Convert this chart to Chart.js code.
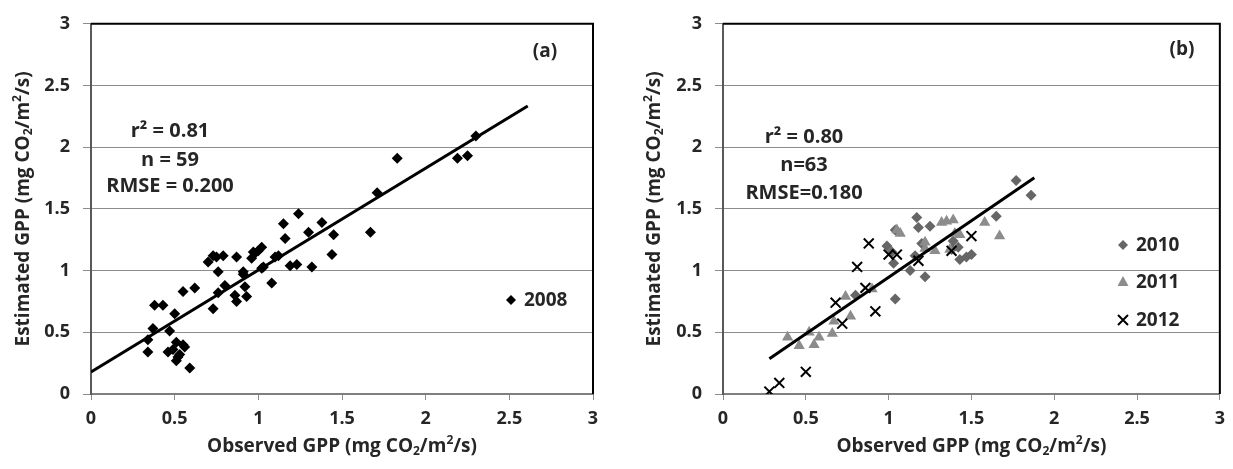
<!DOCTYPE html>
<html>
<head>
<meta charset="utf-8">
<script src="https://cdn.jsdelivr.net/npm/chart.js@4.4.0/dist/chart.umd.min.js"></script>
<style>
  html, body { margin: 0; padding: 0; background: #fff; }
  #wrap { position: relative; width: 1233px; height: 469px; overflow: hidden; background: #fff; }
  canvas { position: absolute; top: 0; }
  #chartA { left: 0; }
  #chartB { left: 616px; }
</style>
</head>
<body>
<div id="wrap">
  <canvas id="chartA" width="616" height="469"></canvas>
  <canvas id="chartB" width="617" height="469"></canvas>
</div>
<script>
// ticks, same on both axes of both panels
const tickValues = [0, 0.5, 1, 1.5, 2, 2.5, 3];
const tickLabels = ['0', '0.5', '1', '1.5', '2', '2.5', '3'];

// panel (a) : 2008
const obs2008 = [0.34, 0.34, 0.37, 0.38, 0.43, 0.47, 0.50, 0.46, 0.51, 0.56, 0.49, 0.53, 0.51, 0.52, 0.55, 0.59, 0.55, 0.62,
  0.70, 0.73, 0.73, 0.75, 0.76, 0.76, 0.79, 0.80, 0.86, 0.87, 0.87, 0.91, 0.91, 0.92, 0.93, 0.96, 0.97, 0.98, 1.00, 1.02,
  1.02, 1.03, 1.08, 1.10, 1.12, 1.15, 1.16, 1.19, 1.23, 1.24, 1.30, 1.32, 1.38, 1.44, 1.45, 1.67, 1.71, 1.83, 2.19, 2.25, 2.30];
const est2008 = [0.34, 0.44, 0.53, 0.72, 0.72, 0.51, 0.65, 0.34, 0.42, 0.38, 0.36, 0.32, 0.27, 0.30, 0.40, 0.21, 0.83, 0.86,
  1.07, 0.69, 1.12, 1.11, 0.99, 0.82, 1.12, 0.88, 0.80, 0.75, 1.11, 0.99, 0.97, 0.87, 0.79, 1.10, 1.15, 1.14, 1.16, 1.19,
  1.02, 1.03, 0.90, 1.11, 1.12, 1.38, 1.26, 1.04, 1.05, 1.46, 1.31, 1.03, 1.39, 1.13, 1.29, 1.31, 1.63, 1.91, 1.91, 1.93, 2.09];

// panel (b) : 2010, 2011, 2012
const obs2010 = [1.77, 1.86, 1.17, 1.65, 1.18, 1.25, 1.04, 0.99, 1.03, 1.13, 1.22, 1.04, 1.16, 1.39, 1.42, 1.43, 1.47, 1.50, 1.20, 0.80, 1.02, 1.38];
const est2010 = [1.73, 1.61, 1.43, 1.44, 1.35, 1.36, 1.33, 1.20, 1.06, 1.00, 0.95, 0.77, 1.12, 1.24, 1.19, 1.09, 1.11, 1.13, 1.22, 0.80, 1.15, 1.17];
const obs2011 = [0.39, 0.46, 0.52, 0.55, 0.58, 0.66, 0.67, 0.74, 0.77, 0.90, 1.05, 1.07, 1.32, 1.35, 1.39, 1.40, 1.43, 1.58, 1.67, 1.22, 1.22, 1.28, 1.37];
const est2011 = [0.46, 0.39, 0.50, 0.40, 0.46, 0.49, 0.59, 0.79, 0.63, 0.85, 1.33, 1.30, 1.39, 1.40, 1.41, 1.30, 1.29, 1.39, 1.28, 1.23, 1.18, 1.16, 1.17];
const obs2012 = [0.28, 0.34, 0.50, 0.68, 0.72, 0.81, 0.86, 0.88, 0.92, 1.00, 1.05, 1.18, 1.38, 1.50];
const est2012 = [0.02, 0.09, 0.18, 0.74, 0.57, 1.03, 0.86, 1.22, 0.67, 1.13, 1.13, 1.08, 1.16, 1.28];

// regression lines (end points)
const fitXA = [0, 2.61];
const fitYA = [0.178, 2.334];
const fitXB = [0.28, 1.88];
const fitYB = [0.285, 1.752];

// text boxes
const statsA = ['r\u00B2 = 0.81', 'n = 59', 'RMSE = 0.200'];
const statsB = ['r\u00B2 = 0.80', 'n=63', 'RMSE=0.180'];

const FONT = '"Open Sans", "Noto Sans", sans-serif';
const TXT = '#262626';

function pts(xs, ys) {
  return xs.map((x, i) => ({ x: x, y: ys[i] }));
}

// draws "Observed GPP (mg CO2/m2/s)" with sub and sup
function drawRich(ctx, parts, cx, cy) {
  const big = 'bold 19px ' + FONT;
  const small = 'bold 12px ' + FONT;
  let w = 0;
  parts.forEach(p => {
    ctx.font = p.s ? small : big;
    p.w = ctx.measureText(p.t).width;
    w += p.w;
  });
  let x = cx - w / 2;
  ctx.textAlign = 'left';
  ctx.textBaseline = 'middle';
  ctx.fillStyle = TXT;
  parts.forEach(p => {
    ctx.font = p.s ? small : big;
    let dy = 0;
    if (p.s === 'sub') dy = 5;
    if (p.s === 'sup') dy = -6;
    ctx.fillText(p.t, x, cy + dy);
    x += p.w;
  });
}

function titleParts(first) {
  return [{ t: first + ' (mg CO' }, { t: '2', s: 'sub' }, { t: '/m' }, { t: '2', s: 'sup' }, { t: '/s)' }];
}

function marker(ctx, kind, x, y) {
  ctx.save();
  if (kind === 'diamond' || kind === 'diamondGray') {
    const r = 5;
    ctx.fillStyle = kind === 'diamond' ? '#000' : '#666';
    ctx.beginPath();
    ctx.moveTo(x - r, y); ctx.lineTo(x, y - r); ctx.lineTo(x + r, y); ctx.lineTo(x, y + r);
    ctx.closePath();
    ctx.fill();
  } else if (kind === 'triangle') {
    ctx.fillStyle = '#8c8c8c';
    ctx.beginPath();
    ctx.moveTo(x, y - 6); ctx.lineTo(x + 5.5, y + 4); ctx.lineTo(x - 5.5, y + 4);
    ctx.closePath();
    ctx.fill();
  } else {
    ctx.strokeStyle = '#000';
    ctx.lineWidth = 2;
    ctx.beginPath();
    ctx.moveTo(x - 5, y - 5); ctx.lineTo(x + 5, y + 5);
    ctx.moveTo(x + 5, y - 5); ctx.lineTo(x - 5, y + 5);
    ctx.stroke();
  }
  ctx.restore();
}

function decorPlugin(cfg) {
  return {
    id: 'decor' + cfg.tag,
    afterDraw(chart) {
      const ctx = chart.ctx;
      const a = chart.chartArea;
      ctx.save();
      // frame (top and right)
      ctx.strokeStyle = '#000';
      ctx.lineWidth = 2;
      ctx.beginPath();
      ctx.moveTo(a.left, a.top);
      ctx.lineTo(a.right, a.top);
      ctx.lineTo(a.right, a.bottom);
      ctx.stroke();

      // axis titles
      drawRich(ctx, titleParts('Observed GPP'), (a.left + a.right) / 2, 447);
      ctx.save();
      ctx.translate(cfg.yTitleX, (a.top + a.bottom) / 2);
      ctx.rotate(-Math.PI / 2);
      drawRich(ctx, titleParts('Estimated GPP'), 0, 0);
      ctx.restore();

      // stats
      ctx.font = 'bold 20px ' + FONT;
      ctx.fillStyle = TXT;
      ctx.textAlign = 'center';
      ctx.textBaseline = 'middle';
      cfg.stats.forEach((s, i) => ctx.fillText(s, cfg.statsX, cfg.statsY[i]));

      // panel letter
      ctx.font = 'bold 19px ' + FONT;
      ctx.fillText(cfg.letter, cfg.letterX, cfg.letterY);

      // legend
      ctx.font = 'bold 19px ' + FONT;
      ctx.textAlign = 'left';
      cfg.legend.forEach(l => {
        marker(ctx, l.kind, cfg.legX, l.y);
        ctx.fillStyle = TXT;
        ctx.fillText(l.label, cfg.legX + 13, l.y + 1);
      });
      ctx.restore();
    }
  };
}

function baseOptions(yWidth, rightPad) {
  return {
    responsive: false,
    animation: false,
    devicePixelRatio: 1,
    layout: { padding: { top: 19, right: rightPad, left: 0, bottom: 0 } },
    plugins: { legend: { display: false }, tooltip: { enabled: false } },
    scales: {
      x: {
        type: 'linear', min: 0, max: 3,
        afterBuildTicks: s => { s.ticks = tickValues.map(v => ({ value: v })); },
        afterFit: s => { s.height = 75; },
        ticks: {
          callback: (v, i) => tickLabels[i],
          font: { family: FONT, size: 18, weight: 'bold' },
          color: TXT, padding: 8, maxRotation: 0, autoSkip: false
        },
        grid: { drawOnChartArea: false, drawTicks: true, tickLength: 6, color: '#8c8c8c' },
        border: { color: '#7f7f7f', width: 2 }
      },
      y: {
        type: 'linear', min: 0, max: 3,
        afterBuildTicks: s => { s.ticks = tickValues.map(v => ({ value: v })); },
        afterFit: s => { s.width = yWidth; },
        ticks: {
          callback: (v, i) => tickLabels[i],
          font: { family: FONT, size: 18, weight: 'bold' },
          color: TXT, padding: 13
        },
        grid: { color: '#8c8c8c', lineWidth: 1, tickLength: 8 },
        border: { color: '#595959', width: 2 }
      }
    }
  };
}

function lineSet(xs, ys) {
  return {
    type: 'line', data: pts(xs, ys), borderColor: '#000', borderWidth: 3,
    pointRadius: 0, fill: false, order: 0
  };
}

new Chart(document.getElementById('chartA'), {
  type: 'scatter',
  data: {
    datasets: [
      lineSet(fitXA, fitYA),
      { label: '2008', data: pts(obs2008, est2008), pointStyle: 'rectRot', pointRadius: 5.5,
        backgroundColor: '#000', borderColor: '#000', borderWidth: 0, order: 1 }
    ]
  },
  options: baseOptions(91, 23),
  plugins: [decorPlugin({
    tag: 'A', yTitleX: 24, stats: statsA, statsX: 170, statsY: [131, 160, 186],
    letter: '(a)', letterX: 545, letterY: 52,
    legX: 511, legend: [{ kind: 'diamond', label: '2008', y: 300 }]
  })]
});

new Chart(document.getElementById('chartB'), {
  type: 'scatter',
  data: {
    datasets: [
      lineSet(fitXB, fitYB),
      { label: '2012', data: pts(obs2012, est2012), pointStyle: 'crossRot', pointRadius: 7,
        borderColor: '#000', borderWidth: 2, order: 1 },
      { label: '2011', data: pts(obs2011, est2011), pointStyle: 'triangle', pointRadius: 6.5,
        backgroundColor: '#8c8c8c', borderColor: '#8c8c8c', borderWidth: 0, order: 2 },
      { label: '2010', data: pts(obs2010, est2010), pointStyle: 'rectRot', pointRadius: 5.5,
        backgroundColor: '#666', borderColor: '#666', borderWidth: 0, order: 3 }
    ]
  },
  options: baseOptions(107, 8),
  plugins: [decorPlugin({
    tag: 'B', yTitleX: 39, stats: statsB, statsX: 188, statsY: [137, 165, 193],
    letter: '(b)', letterX: 566, letterY: 50,
    legX: 507, legend: [
      { kind: 'diamondGray', label: '2010', y: 245 },
      { kind: 'triangle', label: '2011', y: 282 },
      { kind: 'cross', label: '2012', y: 320 }
    ]
  })]
});
</script>
</body>
</html>
